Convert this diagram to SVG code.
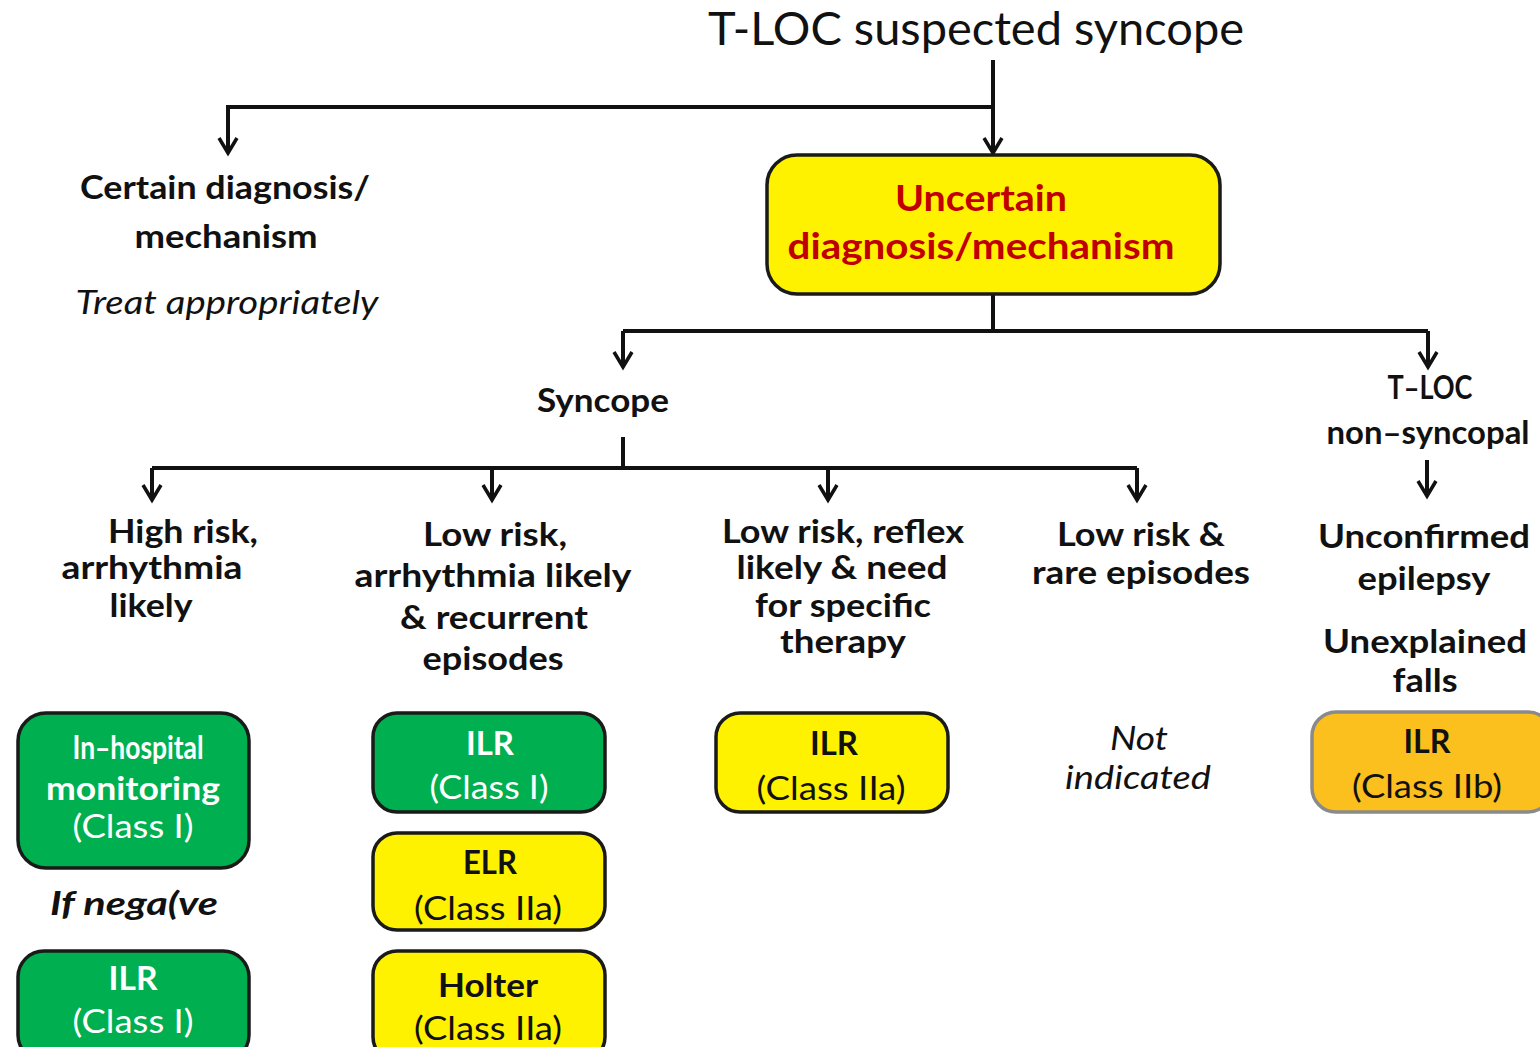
<svg xmlns="http://www.w3.org/2000/svg" width="1540" height="1047" viewBox="0 0 1540 1047">
<style>
text{font-family:Lato,"Open Sans","Liberation Sans",sans-serif;text-anchor:middle;fill:#111}
.b{font-weight:bold;font-size:32px}
.r{font-size:33px}
.i{font-style:italic;font-size:32px}
.w{fill:#fff}
.red{fill:#C00000;font-weight:bold;font-size:36px}
.conn{stroke:#111;stroke-width:4;fill:none}
.box{stroke:#1a1a1a;stroke-width:3.5}
.g{fill:#00B050}
.y{fill:#FFF200}
.o{fill:#FBBF1E;stroke:#8a8a8a;stroke-width:3.5}
</style>
<defs>
<marker id="ah" viewBox="-18 -11 20 22" refX="0" refY="0" markerWidth="20" markerHeight="22" markerUnits="userSpaceOnUse" orient="auto" overflow="visible">
<path d="M-15,-9 L0,0 L-15,9" fill="none" stroke="#111" stroke-width="3.5" stroke-linejoin="miter"/>
</marker>
</defs>
<rect width="1540" height="1047" fill="#fff"/>
<g id="connectors">
<path class="conn" d="M993,60 V153" marker-end="url(#ah)"/>
<path class="conn" d="M993,107 H228 V153" marker-end="url(#ah)"/>
<path class="conn" d="M993,294 V331"/>
<path class="conn" d="M623,331 H1428"/>
<path class="conn" d="M623,331 V367" marker-end="url(#ah)"/>
<path class="conn" d="M1428,331 V367" marker-end="url(#ah)"/>
<path class="conn" d="M623,437 V468"/>
<path class="conn" d="M152,468 H1137"/>
<path class="conn" d="M152,468 V500" marker-end="url(#ah)"/>
<path class="conn" d="M492,468 V500" marker-end="url(#ah)"/>
<path class="conn" d="M828,468 V500" marker-end="url(#ah)"/>
<path class="conn" d="M1137,468 V500" marker-end="url(#ah)"/>
<path class="conn" d="M1427,460 V496" stroke-width="3.5" marker-end="url(#ah)"/>
</g>
<g id="title"><text x="976" y="45" font-size="46" textLength="536" lengthAdjust="spacingAndGlyphs">T‐LOC suspected syncope</text></g>
<g id="certain">
<text class="b" x="225" y="199" textLength="290" lengthAdjust="spacingAndGlyphs">Certain diagnosis/</text>
<text class="b" x="226" y="248" textLength="183" lengthAdjust="spacingAndGlyphs">mechanism</text>
<text class="i" x="227" y="314" textLength="303" lengthAdjust="spacingAndGlyphs">Treat appropriately</text>
</g>
<g id="uncertain">
<rect class="box y" x="767" y="155" width="453" height="139" rx="30"/>
<text class="red" x="981" y="211" textLength="172" lengthAdjust="spacingAndGlyphs">Uncertain</text>
<text class="red" x="981" y="259" textLength="387" lengthAdjust="spacingAndGlyphs">diagnosis/mechanism</text>
</g>
<g id="syncope"><text class="b" x="603" y="412" textLength="132" lengthAdjust="spacingAndGlyphs">Syncope</text></g>
<g id="tloc-nonsyncopal">
<text class="b" x="1430" y="399" textLength="85" lengthAdjust="spacingAndGlyphs">T–LOC</text>
<text class="b" x="1428" y="444" textLength="203" lengthAdjust="spacingAndGlyphs">non–syncopal</text>
</g>
<g id="high-risk">
<text class="b" x="183" y="543" textLength="150" lengthAdjust="spacingAndGlyphs">High risk,</text>
<text class="b" x="152" y="579" textLength="181" lengthAdjust="spacingAndGlyphs">arrhythmia</text>
<text class="b" x="151" y="617" textLength="83" lengthAdjust="spacingAndGlyphs">likely</text>
</g>
<g id="low-risk-arrhythmia">
<text class="b" x="495" y="546" textLength="144" lengthAdjust="spacingAndGlyphs">Low risk,</text>
<text class="b" x="493" y="587" textLength="277" lengthAdjust="spacingAndGlyphs">arrhythmia likely</text>
<text class="b" x="494" y="629" textLength="188" lengthAdjust="spacingAndGlyphs">&amp; recurrent</text>
<text class="b" x="493" y="670" textLength="141" lengthAdjust="spacingAndGlyphs">episodes</text>
</g>
<g id="low-risk-reflex">
<text class="b" x="843" y="543" textLength="242" lengthAdjust="spacingAndGlyphs">Low risk, reflex</text>
<text class="b" x="842" y="579" textLength="211" lengthAdjust="spacingAndGlyphs">likely &amp; need</text>
<text class="b" x="843" y="617" textLength="176" lengthAdjust="spacingAndGlyphs">for specific</text>
<text class="b" x="843" y="653" textLength="126" lengthAdjust="spacingAndGlyphs">therapy</text>
</g>
<g id="low-risk-rare">
<text class="b" x="1141" y="546" textLength="168" lengthAdjust="spacingAndGlyphs">Low risk &amp;</text>
<text class="b" x="1141" y="584" textLength="218" lengthAdjust="spacingAndGlyphs">rare episodes</text>
</g>
<g id="unconfirmed">
<text class="b" x="1424" y="548" textLength="212" lengthAdjust="spacingAndGlyphs">Unconfirmed</text>
<text class="b" x="1424" y="590" textLength="133" lengthAdjust="spacingAndGlyphs">epilepsy</text>
<text class="b" x="1425" y="653" textLength="204" lengthAdjust="spacingAndGlyphs">Unexplained</text>
<text class="b" x="1425" y="692" textLength="65" lengthAdjust="spacingAndGlyphs">falls</text>
</g>
<g id="in-hospital">
<rect class="box g" x="18" y="713" width="231" height="155" rx="28"/>
<text class="b w" x="138" y="759" textLength="131" lengthAdjust="spacingAndGlyphs">In–hospital</text>
<text class="b w" x="133" y="800" textLength="174" lengthAdjust="spacingAndGlyphs">monitoring</text>
<text class="r w" x="133" y="838" textLength="121" lengthAdjust="spacingAndGlyphs">(Class I)</text>
</g>
<g id="if-negative"><text class="b" x="134" y="915" font-style="italic" textLength="168" lengthAdjust="spacingAndGlyphs">If nega(ve</text></g>
<g id="ilr-high">
<rect class="box g" x="18" y="951" width="231" height="110" rx="26"/>
<text class="b w" x="133" y="990" textLength="49" lengthAdjust="spacingAndGlyphs">ILR</text>
<text class="r w" x="133" y="1033" textLength="121" lengthAdjust="spacingAndGlyphs">(Class I)</text>
</g>
<g id="ilr-low">
<rect class="box g" x="373" y="713" width="232" height="99" rx="24"/>
<text class="b w" x="490" y="755" textLength="48" lengthAdjust="spacingAndGlyphs">ILR</text>
<text class="r w" x="489" y="799" textLength="119" lengthAdjust="spacingAndGlyphs">(Class I)</text>
</g>
<g id="elr">
<rect class="box y" x="373" y="833" width="232" height="97" rx="24"/>
<text class="b" x="490" y="874" textLength="54" lengthAdjust="spacingAndGlyphs">ELR</text>
<text class="r" x="488" y="920" textLength="148" lengthAdjust="spacingAndGlyphs">(Class IIa)</text>
</g>
<g id="holter">
<rect class="box y" x="373" y="951" width="232" height="110" rx="24"/>
<text class="b" x="488" y="997" textLength="100" lengthAdjust="spacingAndGlyphs">Holter</text>
<text class="r" x="488" y="1040" textLength="148" lengthAdjust="spacingAndGlyphs">(Class IIa)</text>
</g>
<g id="ilr-reflex">
<rect class="box y" x="716" y="713" width="232" height="99" rx="24"/>
<text class="b" x="834" y="755" textLength="48" lengthAdjust="spacingAndGlyphs">ILR</text>
<text class="r" x="831" y="800" textLength="149" lengthAdjust="spacingAndGlyphs">(Class IIa)</text>
</g>
<g id="not-indicated">
<text class="i" x="1139" y="750" textLength="58" lengthAdjust="spacingAndGlyphs">Not</text>
<text class="i" x="1138" y="789" textLength="146" lengthAdjust="spacingAndGlyphs">indicated</text>
</g>
<g id="ilr-iib">
<rect class="o" x="1312" y="712" width="240" height="100" rx="24"/>
<text class="b" x="1427" y="753" textLength="47" lengthAdjust="spacingAndGlyphs">ILR</text>
<text class="r" x="1427" y="798" textLength="150" lengthAdjust="spacingAndGlyphs">(Class IIb)</text>
</g>
</svg>
